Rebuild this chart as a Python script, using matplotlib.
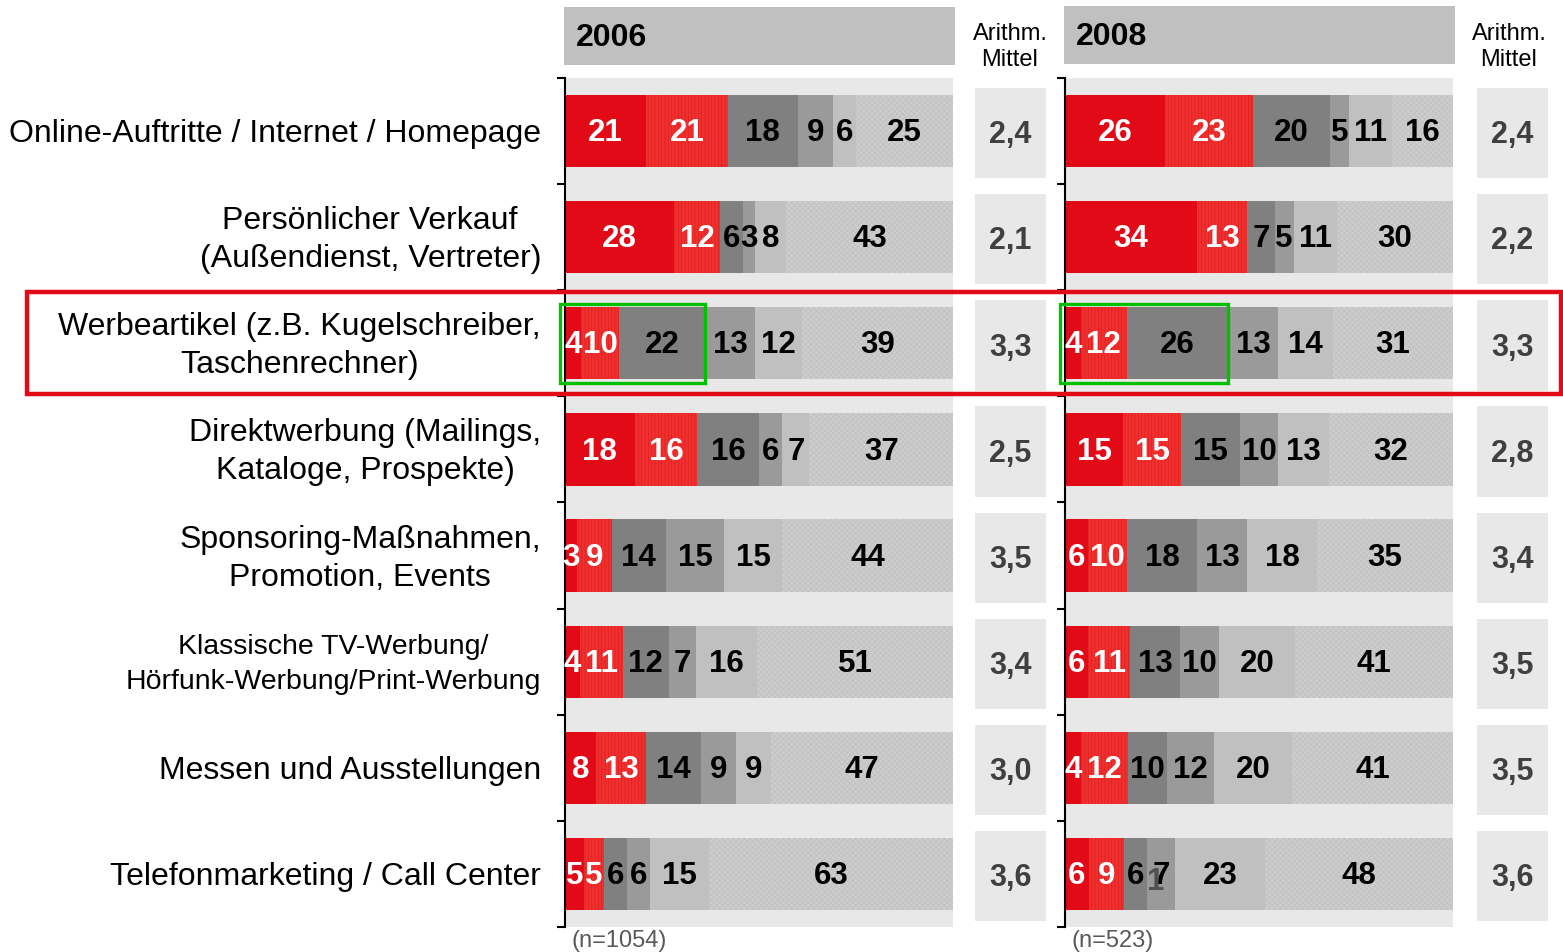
import matplotlib
matplotlib.use('Agg')
import matplotlib.pyplot as plt
import matplotlib.patches as mpatches
import numpy as np

plt.rcParams['font.family'] = ['Liberation Sans', 'DejaVu Sans']
plt.rcParams['hatch.linewidth'] = 0.5

# ---------------- data ----------------
categories = [
    'Online-Auftritte / Internet / Homepage',
    'Persönlicher Verkauf\n(Außendienst, Vertreter)',
    'Werbeartikel (z.B. Kugelschreiber,\nTaschenrechner)',
    'Direktwerbung (Mailings,\nKataloge, Prospekte)',
    'Sponsoring-Maßnahmen,\nPromotion, Events',
    'Klassische TV-Werbung/\nHörfunk-Werbung/Print-Werbung',
    'Messen und Ausstellungen',
    'Telefonmarketing / Call Center',
]
cat_sizes = [23, 23, 23, 23, 23, 20.5, 23, 23]

vals_2006 = [
    [21, 21, 18, 9, 6, 25],
    [28, 12, 6, 3, 8, 43],
    [4, 10, 22, 13, 12, 39],
    [18, 16, 16, 6, 7, 37],
    [3, 9, 14, 15, 15, 44],
    [4, 11, 12, 7, 16, 51],
    [8, 13, 14, 9, 9, 47],
    [5, 5, 6, 6, 15, 63],
]
vals_2008 = [
    [26, 23, 20, 5, 11, 16],
    [34, 13, 7, 5, 11, 30],
    [4, 12, 26, 13, 14, 31],
    [15, 15, 15, 10, 13, 32],
    [6, 10, 18, 13, 18, 35],
    [6, 11, 13, 10, 20, 41],
    [4, 12, 10, 12, 20, 41],
    [6, 9, 6, 7, 23, 48],
]
mean_2006 = ['2,4', '2,1', '3,3', '2,5', '3,5', '3,4', '3,0', '3,6']
mean_2008 = ['2,4', '2,2', '3,3', '2,8', '3,4', '3,5', '3,5', '3,6']
n_2006 = '(n=1054)'
n_2008 = '(n=523)'
highlight_row = 2
highlight_segs = 3

seg_colors = ['#e30a18', '#f0302e', '#808080', '#9a9a9a', '#c0c0c0', '#cdcdcd']
seg_hatch = [None, '|||||', None, None, None, 'xxxxxx']
seg_hatch_col = [None, '#e01c20', None, None, None, '#c0c0c0']
seg_text = ['white', 'white', 'black', 'black', 'black', 'black']

# ---------------- layout (pixels) ----------------
W, H = 1563, 952
fig = plt.figure(figsize=(W / 100, H / 100), dpi=100)


def px_axes(l, t, r, b, **kw):
    return fig.add_axes([l / W, 1 - b / H, (r - l) / W, (b - t) / H], **kw)


n_rows = len(categories)


def draw_panel(left, right, mean_l, mean_r, vals, means, n_text):
    ax = px_axes(left, 78, right, 927)
    ax.set_facecolor('#e8e8e8')
    for i, row in enumerate(vals):
        row = np.array(row, dtype=float)
        widths = row / row.sum() * 100
        starts = np.concatenate([[0], np.cumsum(widths)[:-1]])
        for j, (s, w) in enumerate(zip(starts, widths)):
            ax.barh(i + 0.5, w, left=s, height=0.68, color=seg_colors[j],
                    hatch=seg_hatch[j],
                    edgecolor=seg_hatch_col[j] if seg_hatch[j] else seg_colors[j],
                    linewidth=0)
            ax.text(s + w / 2, i + 0.52, str(int(row[j])), ha='center', va='center',
                    fontsize=22.5, fontweight='bold', color=seg_text[j])
        if i == highlight_row:
            x_end = starts[highlight_segs]
            ax.add_patch(mpatches.Rectangle((-1.3, i + 0.5 - 0.375), x_end + 1.3, 0.75,
                                            fill=False, edgecolor='#00c000', linewidth=2.4,
                                            clip_on=False, zorder=5))
    ax.set_xlim(0, 100)
    ax.set_ylim(n_rows, 0)
    ax.set_yticks(np.arange(n_rows + 1))
    ax.set_yticklabels([])
    ax.set_xticks([])
    for sp in ['top', 'right', 'bottom']:
        ax.spines[sp].set_visible(False)
    ax.spines['left'].set_linewidth(1.5)
    ax.tick_params(axis='y', direction='out', length=6, width=1.5)
    ax.text(0.018, -0.003, n_text, transform=ax.transAxes, ha='left', va='top',
            fontsize=17, color='#595959')

    am = px_axes(mean_l, 78, mean_r, 927)
    am.set_facecolor('none')
    am.barh(np.arange(n_rows) + 0.52, 1, left=0, height=0.85, color='#e8e8e8')
    for i, m in enumerate(means):
        am.text(0.5, i + 0.54, m, ha='center', va='center', fontsize=22,
                fontweight='bold', color='#404040')
    am.set_xlim(0, 1)
    am.set_ylim(n_rows, 0)
    am.axis('off')
    return ax


ax06 = draw_panel(565, 953, 975, 1046, vals_2006, mean_2006, n_2006)
ax08 = draw_panel(1065, 1453, 1477, 1548, vals_2008, mean_2008, n_2008)

# stray "1" printed over the 7 in the 2008 telephone row (as in the source)
tel = np.array(vals_2008[7], dtype=float)
tel_w = tel / tel.sum() * 100
ax08.text(np.cumsum(tel_w)[2] + tel_w[3] * 0.3, 7.58, '1', ha='center', va='center',
          fontsize=22.5, fontweight='bold', color='#505050')

# ---------------- overlay: headers, labels, frames ----------------
ov = fig.add_axes([0, 0, 1, 1], facecolor='none', zorder=10)
ov.set_xlim(0, W)
ov.set_ylim(H, 0)
ov.axis('off')

for (l, r, t, b, year) in [(564, 955, 7, 65, '2006'), (1064, 1455, 6, 64, '2008')]:
    ov.add_patch(mpatches.Rectangle((l, t), r - l, b - t, color='#c0c0c0', linewidth=0))
    ov.text(l + 12, (t + b) / 2 + 2, year, ha='left', va='center', fontsize=23,
            fontweight='bold', color='black')

for xc in [1010, 1509]:
    ov.text(xc, 47, 'Arithm.\nMittel', ha='center', va='center', fontsize=17,
            color='black', linespacing=1.2)

row_h = (927 - 78) / n_rows
for i, (c, fs) in enumerate(zip(categories, cat_sizes)):
    ov.text(541, 78 + row_h * (i + 0.5) + 3, c, ha='right', va='center', fontsize=fs,
            multialignment='center', color='black',
            linespacing=1.45 if fs < 23 else 1.35)

ov.add_patch(mpatches.Rectangle((27, 292), 1534, 102, fill=False, edgecolor='#e30a18',
                                linewidth=3.2))

fig.savefig('out.png', dpi=100, facecolor='white')
